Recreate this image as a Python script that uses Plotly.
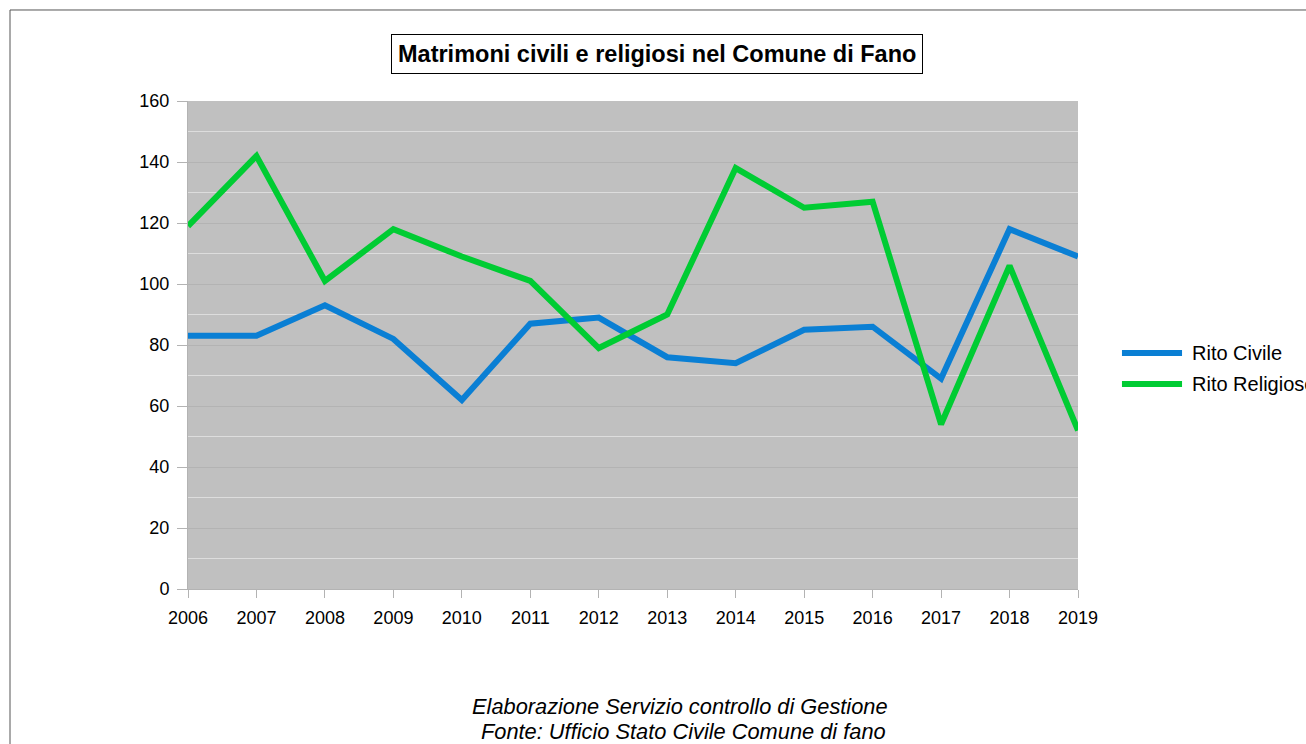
import plotly.graph_objects as go

years = list(range(2006, 2020))
rito_civile = [83, 83, 93, 82, 62, 87, 89, 76, 74, 85, 86, 69, 118, 109]
rito_religioso = [119, 142, 101, 118, 109, 101, 79, 90, 138, 125, 127, 54, 106, 52]
series_names = ['Rito Civile', 'Rito Religioso']
series_colors = ['#0a7fd4', '#00cc33']

fig = go.Figure()
for name, vals, col in zip(series_names, [rito_civile, rito_religioso], series_colors):
    fig.add_trace(go.Scatter(x=years, y=vals, mode='lines', name=name,
                             line=dict(color=col, width=6)))

fig.update_layout(
    width=1306, height=744,
    margin=dict(l=188, r=228, t=101, b=155),
    paper_bgcolor='white',
    plot_bgcolor='#c0c0c0',
    font=dict(family='Liberation Sans, Arial', size=18, color='black'),
    showlegend=False,
)
fig.update_xaxes(range=[2006, 2019], tickvals=years, ticks='outside', ticklen=8,
                 tickcolor='#b3b3b3', showgrid=False, showline=True,
                 linecolor='#b3b3b3', zeroline=False, ticklabelstandoff=4)
fig.update_yaxes(range=[0, 160], dtick=20, ticks='outside', ticklen=10,
                 tickcolor='#b3b3b3', showgrid=True, gridcolor='#b3b3b3',
                 showline=True, linecolor='#b3b3b3', zeroline=False,
                 ticklabelstandoff=4,
                 minor=dict(dtick=10, showgrid=True, gridcolor='#dddddd'))

# titolo in riquadro
fig.add_annotation(x=0.5275, y=1.0953, xref='paper', yref='paper', showarrow=False,
                   xanchor='center', yanchor='middle',
                   text='<b>Matrimoni civili e religiosi nel Comune di Fano</b>',
                   font=dict(size=23.5), bordercolor='black', borderwidth=1,
                   borderpad=6, bgcolor='white')

# fonte
footer = ['Elaborazione Servizio controllo di Gestione',
          'Fonte: Ufficio Stato Civile Comune di fano']
for txt, yy, xx in zip(footer, [-0.2398, -0.291], [0.5525, 0.557]):
    fig.add_annotation(x=xx, y=yy, xref='paper', yref='paper', showarrow=False,
                       xanchor='center', yanchor='middle',
                       text='<i>' + txt + '</i>', font=dict(size=21.8))

# legenda a destra (linee lunghe come nell'originale)
for i, (name, col) in enumerate(zip(series_names, series_colors)):
    yy = 0.4836 - i * 0.0635
    fig.add_shape(type='line', xref='paper', yref='paper',
                  x0=1.0494, x1=1.1169, y0=yy, y1=yy,
                  line=dict(color=col, width=6))
    fig.add_annotation(x=1.1258, y=yy, xref='paper', yref='paper', showarrow=False,
                       xanchor='left', yanchor='middle', text=name,
                       font=dict(size=20))

# cornice esterna
fig.add_shape(type='rect', xref='paper', yref='paper',
              x0=-0.2, x1=1.3, y0=-0.4, y1=1.1865,
              line=dict(color='#555555', width=1), layer='below')

# niente margine della pagina, la figura occupa tutta la finestra
fig.write_html("out.html", config={'displayModeBar': False},
               post_script="document.body.style.margin='0';")
